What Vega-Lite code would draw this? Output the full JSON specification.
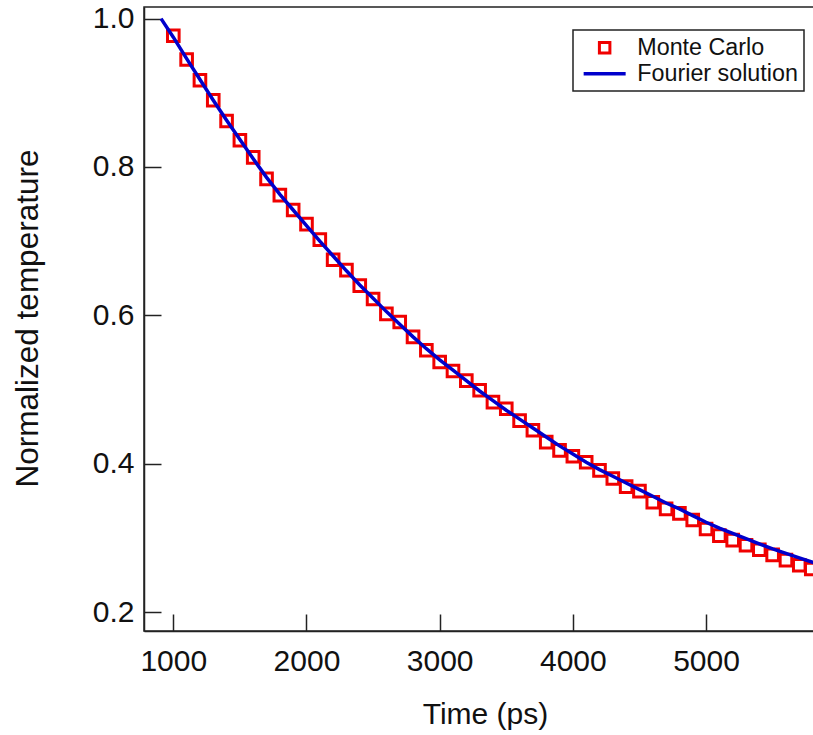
{
  "$schema": "https://vega.github.io/schema/vega-lite/v6.json",
  "autosize": {"type": "none"},
  "padding": {"left": 144, "top": 7, "right": 0, "bottom": 104},
  "width": 671,
  "height": 624,
  "background": "white",
  "config": {
    "font": "Liberation Sans",
    "view": {"stroke": "#222", "strokeWidth": 1.5},
    "axis": {
      "domainColor": "#222", "domainWidth": 1.5,
      "tickColor": "#222", "tickWidth": 1.5, "tickSize": -17,
      "grid": false,
      "labelFont": "Liberation Sans", "labelFontSize": 30, "labelColor": "#111",
      "titleFont": "Liberation Sans", "titleFontWeight": "normal", "titleColor": "#111"
    }
  },
  "datasets": {
    "mc": [
      {"t": 1000, "v": 0.977, "series": "Monte Carlo"},
      {"t": 1100, "v": 0.945, "series": "Monte Carlo"},
      {"t": 1200, "v": 0.917, "series": "Monte Carlo"},
      {"t": 1300, "v": 0.890, "series": "Monte Carlo"},
      {"t": 1400, "v": 0.862, "series": "Monte Carlo"},
      {"t": 1500, "v": 0.836, "series": "Monte Carlo"},
      {"t": 1600, "v": 0.813, "series": "Monte Carlo"},
      {"t": 1700, "v": 0.784, "series": "Monte Carlo"},
      {"t": 1800, "v": 0.762, "series": "Monte Carlo"},
      {"t": 1900, "v": 0.742, "series": "Monte Carlo"},
      {"t": 2000, "v": 0.723, "series": "Monte Carlo"},
      {"t": 2100, "v": 0.702, "series": "Monte Carlo"},
      {"t": 2200, "v": 0.675, "series": "Monte Carlo"},
      {"t": 2300, "v": 0.661, "series": "Monte Carlo"},
      {"t": 2400, "v": 0.640, "series": "Monte Carlo"},
      {"t": 2500, "v": 0.622, "series": "Monte Carlo"},
      {"t": 2600, "v": 0.602, "series": "Monte Carlo"},
      {"t": 2700, "v": 0.591, "series": "Monte Carlo"},
      {"t": 2800, "v": 0.571, "series": "Monte Carlo"},
      {"t": 2900, "v": 0.553, "series": "Monte Carlo"},
      {"t": 3000, "v": 0.537, "series": "Monte Carlo"},
      {"t": 3100, "v": 0.525, "series": "Monte Carlo"},
      {"t": 3200, "v": 0.512, "series": "Monte Carlo"},
      {"t": 3300, "v": 0.499, "series": "Monte Carlo"},
      {"t": 3400, "v": 0.483, "series": "Monte Carlo"},
      {"t": 3500, "v": 0.474, "series": "Monte Carlo"},
      {"t": 3600, "v": 0.458, "series": "Monte Carlo"},
      {"t": 3700, "v": 0.445, "series": "Monte Carlo"},
      {"t": 3800, "v": 0.429, "series": "Monte Carlo"},
      {"t": 3900, "v": 0.418, "series": "Monte Carlo"},
      {"t": 4000, "v": 0.410, "series": "Monte Carlo"},
      {"t": 4100, "v": 0.402, "series": "Monte Carlo"},
      {"t": 4200, "v": 0.391, "series": "Monte Carlo"},
      {"t": 4300, "v": 0.380, "series": "Monte Carlo"},
      {"t": 4400, "v": 0.369, "series": "Monte Carlo"},
      {"t": 4500, "v": 0.363, "series": "Monte Carlo"},
      {"t": 4600, "v": 0.348, "series": "Monte Carlo"},
      {"t": 4700, "v": 0.339, "series": "Monte Carlo"},
      {"t": 4800, "v": 0.333, "series": "Monte Carlo"},
      {"t": 4900, "v": 0.324, "series": "Monte Carlo"},
      {"t": 5000, "v": 0.312, "series": "Monte Carlo"},
      {"t": 5100, "v": 0.303, "series": "Monte Carlo"},
      {"t": 5200, "v": 0.297, "series": "Monte Carlo"},
      {"t": 5300, "v": 0.290, "series": "Monte Carlo"},
      {"t": 5400, "v": 0.284, "series": "Monte Carlo"},
      {"t": 5500, "v": 0.277, "series": "Monte Carlo"},
      {"t": 5600, "v": 0.270, "series": "Monte Carlo"},
      {"t": 5700, "v": 0.263, "series": "Monte Carlo"},
      {"t": 5790, "v": 0.258, "series": "Monte Carlo"}
    ],
    "fourier": [
      {"t": 908, "v": 1.000, "series": "Fourier solution"},
      {"t": 1000, "v": 0.975, "series": "Fourier solution"},
      {"t": 1100, "v": 0.946, "series": "Fourier solution"},
      {"t": 1200, "v": 0.918, "series": "Fourier solution"},
      {"t": 1300, "v": 0.890, "series": "Fourier solution"},
      {"t": 1400, "v": 0.863, "series": "Fourier solution"},
      {"t": 1500, "v": 0.837, "series": "Fourier solution"},
      {"t": 1600, "v": 0.811, "series": "Fourier solution"},
      {"t": 1700, "v": 0.786, "series": "Fourier solution"},
      {"t": 1800, "v": 0.763, "series": "Fourier solution"},
      {"t": 1900, "v": 0.742, "series": "Fourier solution"},
      {"t": 2000, "v": 0.721, "series": "Fourier solution"},
      {"t": 2100, "v": 0.700, "series": "Fourier solution"},
      {"t": 2200, "v": 0.680, "series": "Fourier solution"},
      {"t": 2300, "v": 0.660, "series": "Fourier solution"},
      {"t": 2400, "v": 0.641, "series": "Fourier solution"},
      {"t": 2500, "v": 0.623, "series": "Fourier solution"},
      {"t": 2600, "v": 0.605, "series": "Fourier solution"},
      {"t": 2700, "v": 0.588, "series": "Fourier solution"},
      {"t": 2800, "v": 0.571, "series": "Fourier solution"},
      {"t": 2900, "v": 0.555, "series": "Fourier solution"},
      {"t": 3000, "v": 0.540, "series": "Fourier solution"},
      {"t": 3100, "v": 0.526, "series": "Fourier solution"},
      {"t": 3200, "v": 0.512, "series": "Fourier solution"},
      {"t": 3300, "v": 0.498, "series": "Fourier solution"},
      {"t": 3400, "v": 0.485, "series": "Fourier solution"},
      {"t": 3500, "v": 0.472, "series": "Fourier solution"},
      {"t": 3600, "v": 0.460, "series": "Fourier solution"},
      {"t": 3700, "v": 0.448, "series": "Fourier solution"},
      {"t": 3800, "v": 0.436, "series": "Fourier solution"},
      {"t": 3900, "v": 0.424, "series": "Fourier solution"},
      {"t": 4000, "v": 0.413, "series": "Fourier solution"},
      {"t": 4100, "v": 0.402, "series": "Fourier solution"},
      {"t": 4200, "v": 0.392, "series": "Fourier solution"},
      {"t": 4300, "v": 0.383, "series": "Fourier solution"},
      {"t": 4400, "v": 0.374, "series": "Fourier solution"},
      {"t": 4500, "v": 0.365, "series": "Fourier solution"},
      {"t": 4600, "v": 0.356, "series": "Fourier solution"},
      {"t": 4700, "v": 0.347, "series": "Fourier solution"},
      {"t": 4800, "v": 0.339, "series": "Fourier solution"},
      {"t": 4900, "v": 0.330, "series": "Fourier solution"},
      {"t": 5000, "v": 0.321, "series": "Fourier solution"},
      {"t": 5100, "v": 0.313, "series": "Fourier solution"},
      {"t": 5200, "v": 0.306, "series": "Fourier solution"},
      {"t": 5300, "v": 0.299, "series": "Fourier solution"},
      {"t": 5400, "v": 0.292, "series": "Fourier solution"},
      {"t": 5500, "v": 0.285, "series": "Fourier solution"},
      {"t": 5600, "v": 0.279, "series": "Fourier solution"},
      {"t": 5700, "v": 0.273, "series": "Fourier solution"},
      {"t": 5818, "v": 0.266, "series": "Fourier solution"}
    ]
  },
  "encoding": {
    "x": {
      "field": "t", "type": "quantitative",
      "scale": {"domain": [780, 5818], "nice": false, "zero": false},
      "axis": {
        "title": "Time (ps)", "values": [1000, 2000, 3000, 4000, 5000], "format": "d",
        "labelPadding": 32, "labelBaseline": "top",
        "titleFontSize": 30, "titleX": 341, "titleY": 92, "titleBaseline": "alphabetic", "titleAlign": "center"
      }
    },
    "y": {
      "field": "v", "type": "quantitative",
      "scale": {"domain": [0.1744, 1.0157], "nice": false, "zero": false},
      "axis": {
        "title": "Normalized temperature", "values": [0.2, 0.4, 0.6, 0.8, 1.0], "format": ".1f",
        "labelPadding": 27,
        "titleFontSize": 31.5, "titleX": -107, "titleY": 311, "titleAngle": -90, "titleBaseline": "alphabetic", "titleAlign": "center"
      }
    },
    "color": {
      "field": "series", "type": "nominal",
      "scale": {"domain": ["Monte Carlo", "Fourier solution"], "range": ["#f00000", "#0000cc"]},
      "legend": {
        "title": null,
        "orient": "none",
        "legendX": 429,
        "legendY": 23,
        "padding": 6,
        "strokeColor": "#222",
        "fillColor": "white",
        "labelFont": "Liberation Sans",
        "labelFontSize": 23.3,
        "labelColor": "#111",
        "labelLimit": 400,
        "labelOffset": 21,
        "rowPadding": 2,
        "symbolSize": 144,
        "symbolOffset": 14,
        "encode": {
          "legend": {"update": {"strokeWidth": {"value": 1.5}}},
          "symbols": {
            "update": {
              "shape": {"signal": "datum.value === 'Monte Carlo' ? 'square' : 'M-3.5,0H3.5'"},
              "size": {"signal": "datum.value === 'Monte Carlo' ? 110 : 144"},
              "fill": {"value": "transparent"},
              "stroke": {"signal": "datum.value === 'Monte Carlo' ? '#f00000' : '#0000cc'"},
              "strokeWidth": {"signal": "datum.value === 'Monte Carlo' ? 3 : 3.5"},
              "opacity": {"value": 1}
            }
          }
        }
      }
    }
  },
  "layer": [
    {
      "data": {"name": "mc"},
      "mark": {"type": "point", "shape": "square", "filled": false, "size": 135, "strokeWidth": 3, "opacity": 1}
    },
    {
      "data": {"name": "fourier"},
      "mark": {"type": "line", "strokeWidth": 3.5}
    }
  ]
}
